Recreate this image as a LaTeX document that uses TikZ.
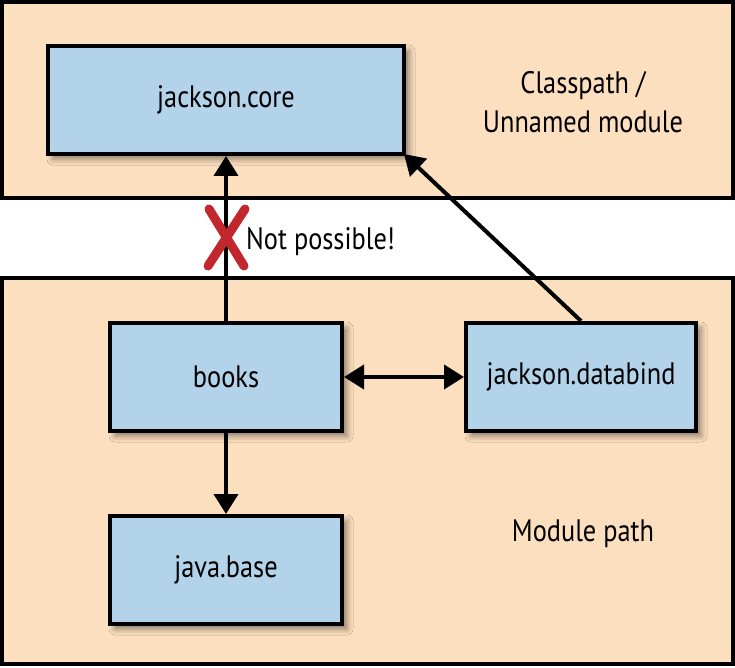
\documentclass[tikz,border=0pt]{standalone}
\usepackage{fontspec}
\setmainfont{PT Sans}[FakeStretch=0.85]
\usetikzlibrary{arrows.meta,shadows.blur}
\definecolor{peach}{RGB}{252,223,190}
\definecolor{boxblue}{RGB}{178,211,234}
\definecolor{xred}{RGB}{193,39,45}
\begin{document}
\begin{tikzpicture}[x=1pt,y=-1pt,
  container/.style={draw=black,line width=4pt,fill=peach},
  modbox/.style={draw=black,line width=4pt,fill=boxblue,inner sep=0pt,
    blur shadow={shadow xshift=5pt,shadow yshift=-5pt,shadow blur radius=6pt,shadow opacity=45},
    font=\fontsize{31}{36}\selectfont},
  lbl/.style={font=\fontsize{31}{39}\selectfont,align=center,inner sep=0pt},
  conn/.style={line width=4pt,-{Triangle[length=20pt,width=24pt]}},
  biconn/.style={line width=4pt,{Triangle[length=20pt,width=24pt]}-{Triangle[length=20pt,width=24pt]}},
  xstroke/.style={xred,line width=9pt,line cap=round}
]
\useasboundingbox (0,0) rectangle (735,668);
\fill[white] (0,0) rectangle (735,668);
\draw[container] (2,2) rectangle (733,198);
\draw[container] (2,278) rectangle (733,664);
\node[modbox,minimum width=356pt,minimum height=108pt] (core) at (226,100) {jackson.core};
\node[modbox,minimum width=232pt,minimum height=108pt] (books) at (226,377) {books};
\node[modbox,minimum width=230pt,minimum height=108pt] (databind) at (581,377) {jackson.databind};
\node[modbox,minimum width=232pt,minimum height=108pt] (base) at (226,570) {java.base};
\node[lbl] (cp) at (583,102) {Classpath /\\Unnamed module};
\node[lbl] (mp) at (583,534) {Module path};
\coordinate (coreBR) at (404,154);
\draw[conn] (books.north) -- (core.south);
\draw[conn] (databind.north) -- (coreBR);
\draw[biconn] (books.east) -- (databind.west);
\draw[conn] (books.south) -- (base.north);
\coordinate (xa) at (209,209);
\coordinate (xb) at (244,266);
\coordinate (xc) at (245,209);
\coordinate (xd) at (208,266);
\draw[xstroke] (xa) -- (xb);
\draw[xstroke] (xc) -- (xd);
\node[lbl,anchor=west] (np) at (246,242) {Not possible!};
\end{tikzpicture}
\end{document}
